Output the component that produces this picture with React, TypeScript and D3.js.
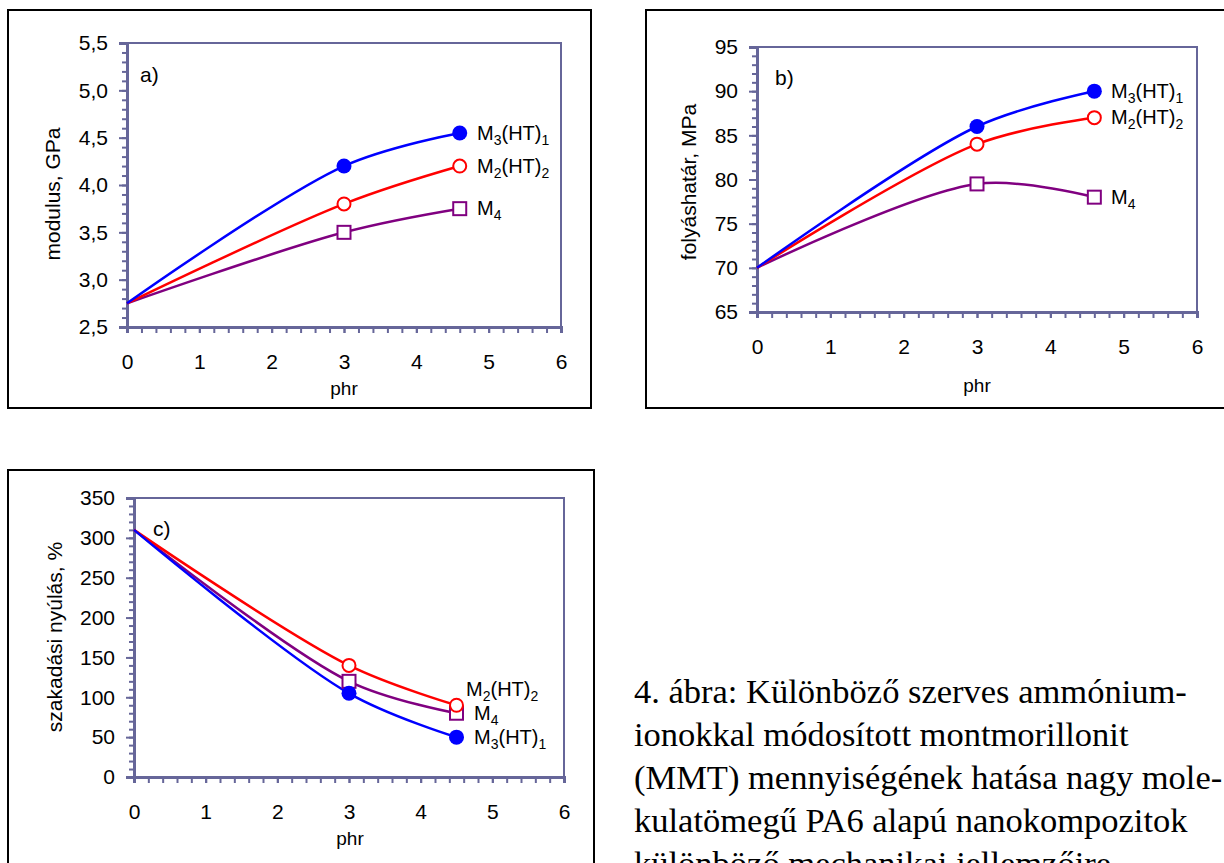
import React, { useRef, useEffect } from 'react';
import * as d3 from 'd3';

// panel a) modulus
const xA = [0, 3, 4.6];
const m3A = [2.75, 4.2, 4.55];
const m2A = [2.75, 3.8, 4.2];
const m4A = [2.75, 3.5, 3.75];

// panel b) folyáshatár
const xB = [0, 3, 4.6];
const m3B = [70, 86, 90];
const m2B = [70, 84, 87];
const m4B = [70, 79.5, 78];

// panel c) szakadási nyúlás
const xC = [0, 3, 4.5];
const m3C = [310, 105, 50];
const m2C = [310, 140, 90];
const m4C = [310, 120, 80];

const xTicks = [0, 1, 2, 3, 4, 5, 6];
const yTicksA = [2.5, 3.0, 3.5, 4.0, 4.5, 5.0, 5.5];
const yTicksB = [65, 70, 75, 80, 85, 90, 95];
const yTicksC = [0, 50, 100, 150, 200, 250, 300, 350];

const captionLines = [
  '4. ábra: Különböző szerves ammónium-',
  'ionokkal módosított montmorillonit',
  '(MMT) mennyiségének hatása nagy mole-',
  'kulatömegű PA6 alapú nanokompozitok',
  'különböző mechanikai jellemzőire',
];

const AXIS = '#666699';
const FONT = 'Liberation Sans, Arial, sans-serif';

function drawPanel(root, cfg) {
  const { box, plot, xs, series, yDomain, yTicks, yMinor, fmt, tag, tagPos, yTitle, yTitlePos, phrPos } = cfg;

  root.append('rect')
    .attr('x', box[0]).attr('y', box[1])
    .attr('width', box[2] - box[0]).attr('height', box[3] - box[1])
    .attr('fill', 'none').attr('stroke', '#000').attr('stroke-width', 2);

  const x = d3.scaleLinear().domain([0, 6]).range([plot[0], plot[2]]);
  const y = d3.scaleLinear().domain(yDomain).range([plot[3], plot[1]]);

  // plot frame
  root.append('rect')
    .attr('x', plot[0]).attr('y', plot[1])
    .attr('width', plot[2] - plot[0]).attr('height', plot[3] - plot[1])
    .attr('fill', 'none').attr('stroke', AXIS).attr('stroke-width', 2);

  // minor ticks
  const yMin = d3.range(yDomain[0], yDomain[1] + yMinor / 2, yMinor);
  root.append('g')
    .attr('transform', `translate(${plot[0]},0)`)
    .call(d3.axisLeft(y).tickValues(yMin).tickSize(5).tickFormat(() => ''))
    .call(g => g.select('.domain').remove())
    .selectAll('line').attr('stroke', AXIS).attr('stroke-width', 2);

  root.append('g')
    .attr('transform', `translate(0,${plot[3]})`)
    .call(d3.axisBottom(x).tickValues(d3.range(0, 6.01, 0.2)).tickSize(6).tickFormat(() => ''))
    .call(g => g.select('.domain').remove())
    .selectAll('line').attr('stroke', AXIS).attr('stroke-width', 2);

  // major axes
  const ya = root.append('g')
    .attr('transform', `translate(${plot[0]},0)`)
    .call(d3.axisLeft(y).tickValues(yTicks).tickSize(8).tickPadding(11).tickFormat(fmt));
  ya.select('.domain').attr('stroke', AXIS).attr('stroke-width', 3);
  ya.selectAll('line').attr('stroke', AXIS).attr('stroke-width', 2);
  ya.selectAll('text').attr('font-family', FONT).attr('font-size', 21).attr('fill', '#000');

  const xa = root.append('g')
    .attr('transform', `translate(0,${plot[3]})`)
    .call(d3.axisBottom(x).tickValues(xTicks).tickSize(6).tickPadding(21).tickFormat(d3.format('d')));
  xa.select('.domain').attr('stroke', AXIS).attr('stroke-width', 3);
  xa.selectAll('line').attr('stroke', AXIS).attr('stroke-width', 2);
  xa.selectAll('text').attr('font-family', FONT).attr('font-size', 21).attr('fill', '#000');

  const line = d3.line()
    .x((d) => x(d[0]))
    .y((d) => y(d[1]))
    .curve(d3.curveCatmullRom.alpha(0.5));

  series.forEach((s) => {
    const pts = xs.map((v, i) => [v, s.values[i]]);
    root.append('path')
      .attr('d', line(pts))
      .attr('fill', 'none').attr('stroke', s.color).attr('stroke-width', 2.5);
  });

  series.forEach((s) => {
    const pts = xs.map((v, i) => [v, s.values[i]]).slice(1);
    pts.forEach((p) => {
      const cx = x(p[0]);
      const cy = y(p[1]);
      if (s.marker === 'dot') {
        root.append('circle').attr('cx', cx).attr('cy', cy).attr('r', 7.5).attr('fill', s.color);
      } else if (s.marker === 'ring') {
        root.append('circle').attr('cx', cx).attr('cy', cy).attr('r', 6.5)
          .attr('fill', '#fff').attr('stroke', s.color).attr('stroke-width', 2);
      } else {
        root.append('rect').attr('x', cx - 6.5).attr('y', cy - 6.5).attr('width', 13).attr('height', 13)
          .attr('fill', '#fff').attr('stroke', s.color).attr('stroke-width', 2);
      }
    });
    // label
    const t = root.append('text')
      .attr('x', s.label[0]).attr('y', s.label[1])
      .attr('font-family', FONT).attr('font-size', 20).attr('fill', '#000');
    t.append('tspan').text('M');
    t.append('tspan').attr('font-size', 14).attr('dy', 5).text(s.sub[0]);
    if (s.sub.length > 1) {
      t.append('tspan').attr('dy', -5).text('(HT)');
      t.append('tspan').attr('font-size', 14).attr('dy', 5).text(s.sub[1]);
    }
  });

  root.append('text')
    .attr('x', tagPos[0]).attr('y', tagPos[1])
    .attr('font-family', FONT).attr('font-size', 21).text(tag);

  root.append('text')
    .attr('transform', `translate(${yTitlePos[0]},${yTitlePos[1]}) rotate(-90)`)
    .attr('text-anchor', 'middle')
    .attr('font-family', FONT).attr('font-size', 21).text(yTitle);

  root.append('text')
    .attr('x', phrPos[0]).attr('y', phrPos[1])
    .attr('text-anchor', 'middle')
    .attr('font-family', FONT).attr('font-size', 19).text('phr');
}

function App() {
  const ref = useRef(null);

  useEffect(() => {
    const svg = d3.select(ref.current);
    svg.selectAll('*').remove();
    svg.append('rect').attr('width', 1224).attr('height', 863).attr('fill', '#fff');

    const comma = (d) => d3.format('.1f')(d).replace('.', ',');

    drawPanel(svg, {
      box: [8, 10, 591, 408],
      plot: [127, 43, 561, 327],
      xs: xA,
      yDomain: [2.5, 5.5],
      yTicks: yTicksA,
      yMinor: 0.1,
      fmt: comma,
      tag: 'a)',
      tagPos: [140, 82],
      yTitle: 'modulus, GPa',
      yTitlePos: [60, 194],
      phrPos: [344, 395],
      series: [
        { values: m4A, color: '#800080', marker: 'square', label: [477, 215], sub: ['4'] },
        { values: m2A, color: '#ff0000', marker: 'ring', label: [477, 173], sub: ['2', '2'] },
        { values: m3A, color: '#0000ff', marker: 'dot', label: [477, 140], sub: ['3', '1'] },
      ],
    });

    drawPanel(svg, {
      box: [646, 10, 1232, 408],
      plot: [757, 47, 1197, 312],
      xs: xB,
      yDomain: [65, 95],
      yTicks: yTicksB,
      yMinor: 1,
      fmt: d3.format('d'),
      tag: 'b)',
      tagPos: [775, 85],
      yTitle: 'folyáshatár, MPa',
      yTitlePos: [696, 182],
      phrPos: [977, 392],
      series: [
        { values: m4B, color: '#800080', marker: 'square', label: [1111, 204], sub: ['4'] },
        { values: m2B, color: '#ff0000', marker: 'ring', label: [1111, 124], sub: ['2', '2'] },
        { values: m3B, color: '#0000ff', marker: 'dot', label: [1111, 98], sub: ['3', '1'] },
      ],
    });

    drawPanel(svg, {
      box: [8, 470, 594, 875],
      plot: [134, 498, 564, 777],
      xs: xC,
      yDomain: [0, 350],
      yTicks: yTicksC,
      yMinor: 10,
      fmt: d3.format('d'),
      tag: 'c)',
      tagPos: [153, 536],
      yTitle: 'szakadási nyúlás, %',
      yTitlePos: [62, 637],
      phrPos: [350, 845],
      series: [
        { values: m4C, color: '#800080', marker: 'square', label: [474, 720], sub: ['4'] },
        { values: m2C, color: '#ff0000', marker: 'ring', label: [466, 696], sub: ['2', '2'] },
        { values: m3C, color: '#0000ff', marker: 'dot', label: [474, 744], sub: ['3', '1'] },
      ],
    });

    const cap = svg.append('text')
      .attr('font-family', 'Liberation Serif, Times New Roman, serif')
      .attr('font-size', 34.5).attr('fill', '#000');
    captionLines.forEach((l, i) => {
      cap.append('tspan').attr('x', 634).attr('y', 703 + i * 43).text(l);
    });
  }, []);

  return <svg ref={ref} width={1224} height={863} style={{ position: 'absolute', left: 0, top: 0 }} />;
}

export default App;
